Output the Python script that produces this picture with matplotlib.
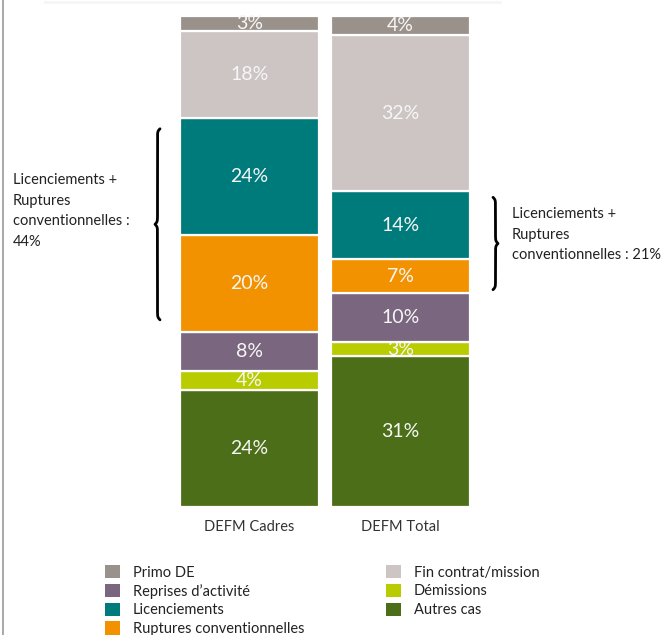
import numpy as np
import matplotlib
matplotlib.use("Agg")
import matplotlib.pyplot as plt
from matplotlib.patches import Patch
from matplotlib.lines import Line2D

# stacked shares (bottom -> top) for each column
bars = ["DEFM Cadres", "DEFM Total"]
categories = ["Autres cas", "Démissions", "Reprises d’activité", "Ruptures conventionnelles",
              "Licenciements", "Fin contrat/mission", "Primo DE"]
cadres = [24, 4, 8, 20, 24, 18, 3]
total = [31, 3, 10, 7, 14, 32, 4]

colors = {
    "Primo DE": "#9b918b",
    "Fin contrat/mission": "#cdc4c4",
    "Reprises d’activité": "#7a667e",
    "Démissions": "#b8cc00",
    "Licenciements": "#007b7b",
    "Autres cas": "#4d6e19",
    "Ruptures conventionnelles": "#f39200",
}
legend_order = ["Primo DE", "Reprises d’activité", "Licenciements", "Ruptures conventionnelles",
                "Fin contrat/mission", "Démissions", "Autres cas"]

brace_notes = ["Licenciements +\nRuptures\nconventionnelles :\n44%",
               "Licenciements +\nRuptures\nconventionnelles : 21%"]

font = "Lato"
plt.rcParams["font.family"] = [font, "DejaVu Sans"]

W, H = 665, 635
fig = plt.figure(figsize=(W / 100, H / 100), dpi=100)
ax = fig.add_axes([0, 0, 1, 1])

# scale: bar centres 151 px apart, 491 px for 101 %
px_x = 151.0
px_y = 491.0 / 101
ax.set_xlim(-249.5 / px_x, (W - 249.5) / px_x)
ax.set_ylim(-128 / px_y, (H - 128) / px_y)
ax.axis("off")

width = 139 / px_x
for i, vals in enumerate([cadres, total]):
    bottom = 0
    for cat, v in zip(categories, vals):
        ax.bar(i, v, width=width, bottom=bottom, color=colors[cat],
               edgecolor="white", linewidth=1.6)
        ax.text(i, bottom + v / 2, f"{v}%", ha="center", va="center",
                color="#f6f6f6", fontsize=14)
        bottom += v
    ax.text(i, -4.2, bars[i], ha="center", va="center", fontsize=10.5, color="#333333")


def brace(x, y0, y1, depth, side):
    # curly brace from y0 to y1, cusp pointing left (side=-1) or right (side=1)
    beta = 3.9
    n = 200
    t = np.linspace(y0, (y0 + y1) / 2, n)
    half = 1 / (1 + np.exp(-beta * (t - t[0]))) + 1 / (1 + np.exp(-beta * (t - t[-1]))) - 0.5
    ys = np.concatenate([t, (y0 + y1) - t[-2::-1]])
    xs = np.concatenate([half, half[-2::-1]])
    ax.plot(x + side * depth * xs, ys, color="black", lw=2, solid_capstyle="round")


# Licenciements + Ruptures spans
lic_c0 = sum(cadres[:3])
lic_c1 = sum(cadres[:5])
lic_t0 = sum(total[:3])
lic_t1 = sum(total[:5])
brace(-(249.5 - 160) / px_x, lic_c0 + 2.5, lic_c1 - 2.2, 5 / px_x, -1)
brace((493 - 249.5) / px_x, lic_t0 + 0.7, lic_t1 - 1.3, 5 / px_x, 1)

ax.text(-(249.5 - 13) / px_x, (507 - 173) / px_y, brace_notes[0], ha="left", va="top",
        fontsize=10.5, color="#222222", linespacing=1.6)
ax.text((512 - 249.5) / px_x, (507 - 207) / px_y, brace_notes[1], ha="left", va="top",
        fontsize=10.5, color="#222222", linespacing=1.6)

# frame decorations
fig.add_artist(Line2D([2.5 / W, 2.5 / W], [0, 1], color="#9a9a9a", lw=1.2))
fig.add_artist(Line2D([45 / W, 500 / W], [1 - 2 / H, 1 - 2 / H], color="#f5f5f5", lw=2))

handles = [Patch(facecolor=colors[c], edgecolor="none") for c in legend_order]
fig.legend(handles, legend_order, ncol=2, loc="upper left",
           bbox_to_anchor=(98 / W, 1 - 558 / H), frameon=False, fontsize=10.5,
           handlelength=1.0, handleheight=1.0, handletextpad=0.9,
           labelspacing=0.28, columnspacing=5.6, borderpad=0, labelcolor="#222222")

fig.savefig("out.png", dpi=100)
